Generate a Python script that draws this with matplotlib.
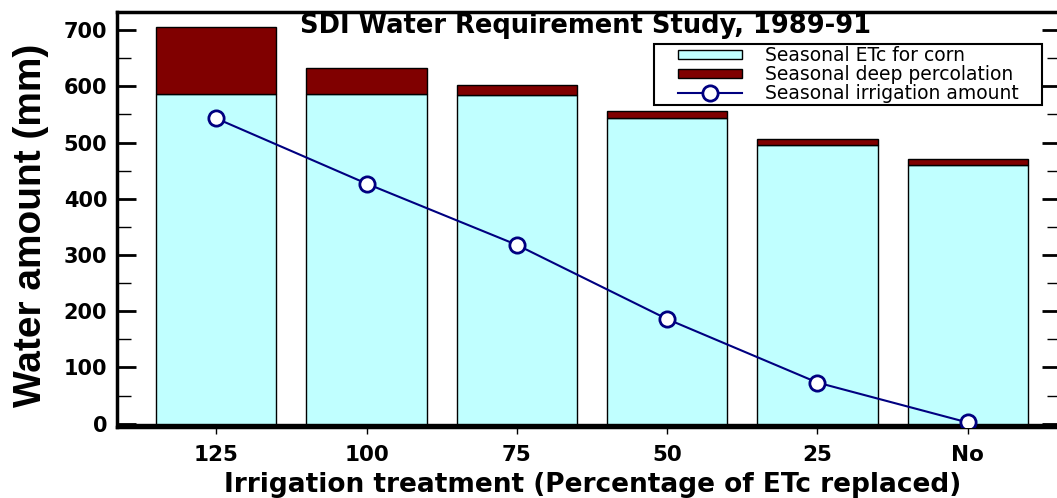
import numpy as np
import matplotlib
matplotlib.use("Agg")
from matplotlib import pyplot as plt
from matplotlib.ticker import MultipleLocator
from matplotlib.patches import Rectangle

plt.rcParams['font.family'] = ['DejaVu Sans']

# data
treatments = ["125", "100", "75", "50", "25", "No"]
etc_corn = [586, 586, 584, 544, 495, 460]
deep_perc = [119, 47, 19, 12, 12, 10]
irrigation = [543, 427, 318, 186, 73, 2]

x = np.arange(len(treatments))
ymin, ymax = -6, 732

fig = plt.figure(figsize=(10.57, 4.98), dpi=100)
ax = fig.add_axes([0.1107, 0.1426, 0.893, 0.833])

b1 = ax.bar(x, etc_corn, width=0.8, color="#C0FFFF", edgecolor="black", linewidth=1,
            label="Seasonal ETc for corn", zorder=2)
b2 = ax.bar(x, deep_perc, width=0.8, bottom=etc_corn, color="#800000", edgecolor="black",
            linewidth=1, label="Seasonal deep percolation", zorder=2)
ln, = ax.plot(x, irrigation, color="#000080", linewidth=1.5, marker="o", markersize=11,
              markerfacecolor="white", markeredgecolor="#000080", markeredgewidth=2,
              label="Seasonal irrigation amount", zorder=3)
# dark strip below the zero line
ax.axhspan(ymin, 0, color="black", zorder=1)

ax.set_xlim(-0.66, 5.62)
ax.set_ylim(ymin, ymax)
ax.set_xticks(x)
ax.set_xticklabels(treatments, fontsize=15.5, fontweight="bold")
ax.set_yticks(np.arange(0, 701, 100))
ax.yaxis.set_minor_locator(MultipleLocator(50))
for lab in ax.get_yticklabels():
    lab.set_fontsize(15)
    lab.set_fontweight("bold")

ax.tick_params(axis="y", which="major", direction="in", length=14, width=2,
               right=True, pad=7)
ax.tick_params(axis="y", which="minor", direction="in", length=10, width=1,
               right=True)
ax.tick_params(axis="x", direction="out", length=5, width=1, pad=8)

for side in ["left", "top", "bottom"]:
    ax.spines[side].set_linewidth(2.5)
ax.spines["right"].set_visible(False)

ax.set_ylabel("Water amount (mm)", fontsize=28, fontweight="bold",
              family=["Liberation Sans", "DejaVu Sans"])
ax.yaxis.set_label_coords(-0.072, 0.487)
ax.set_xlabel("Irrigation treatment (Percentage of ETc replaced)", fontsize=19,
              fontweight="bold")
ax.xaxis.set_label_coords(0.504, -0.108)

ax.text(0.496, 0.966, "SDI Water Requirement Study, 1989-91", transform=ax.transAxes,
        ha="center", va="center", fontsize=18.5, fontweight="bold")

leg = ax.legend([b1, b2, ln], [b1.get_label(), b2.get_label(), ln.get_label()],
                loc="upper right", bbox_to_anchor=(0.955, 0.918), fontsize=13.5,
                frameon=False, borderpad=0, labelspacing=0.0, handlelength=3.4,
                handleheight=0.4, handletextpad=1.2, borderaxespad=0)

# legend frame with wider side margins than top/bottom
fig.canvas.draw()
bb = leg.get_window_extent()
W, H = fig.bbox.width, fig.bbox.height
padx, pady = 24, 2
fig.patches.append(Rectangle(((bb.x0 - padx) / W, (bb.y0 - pady) / H),
                             (bb.width + 2 * padx) / W, (bb.height + 2 * pady) / H,
                             transform=fig.transFigure, fill=False,
                             edgecolor="black", linewidth=1.5, zorder=5))

fig.savefig("out.png", dpi=100)
